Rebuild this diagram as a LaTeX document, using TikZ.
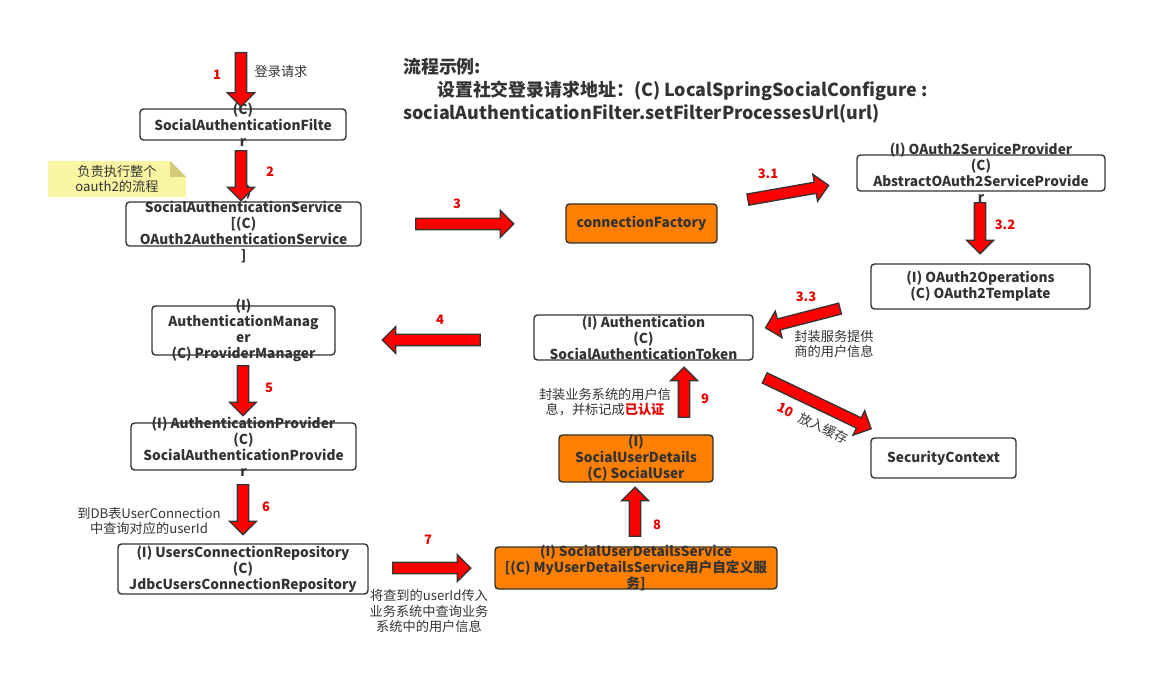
\documentclass[tikz,border=0pt]{standalone}
\usepackage{fontspec}
\setmainfont{Noto Sans CJK SC}
\usetikzlibrary{shapes.arrows,calc}

\definecolor{ink}{HTML}{333333}
\definecolor{flowred}{HTML}{FF0000}
\definecolor{numred}{HTML}{E80000}
\definecolor{boxorange}{HTML}{FF8000}
\definecolor{notefill}{HTML}{FAF5A3}
\definecolor{notefold}{HTML}{D2CC7A}

\tikzset{
  box/.style 2 args={draw=ink, line width=1.4pt, rounded corners=3.5pt, fill=white,
    minimum width=#1, minimum height=#2, inner sep=0pt},
  hot/.style={fill=boxorange},
  boxtxt/.style={align=center, text=ink, inner sep=0pt,
    font=\bfseries\fontsize{13.7}{16}\selectfont},
  blk/.style={single arrow, draw=ink, fill=flowred, line width=1.3pt,
    inner xsep=0pt, inner ysep=5pt, single arrow head extend=8pt,
    minimum height=#1, sloped, allow upside down, pos=0.5},
  num/.style={text=numred, font=\bfseries\fontsize{13}{15}\selectfont},
  remark/.style={align=center, text=ink, inner sep=0pt,
    font=\fontsize{13.2}{15.5}\selectfont},
}

\begin{document}
\begin{tikzpicture}[x=1pt, y=-1pt]
  \useasboundingbox (0,0) rectangle (1165,692);

  % title
  \node[anchor=north west, align=left, text=ink, inner sep=0pt,
    font=\bfseries\fontsize{17.9}{23}\selectfont] (title) at (403,58)
    {流程示例:\\
     \hspace*{34pt}设置社交登录请求地址：(C) LocalSpringSocialConfigure :\\
     socialAuthenticationFilter.setFilterProcessesUrl(url)};

  % sticky note
  \fill[notefill] (48,161) -- (170,161) -- (186,177) -- (186,197) -- (48,197) -- cycle;
  \fill[notefold] (170,161) -- (186,177) -- (170,177) -- cycle;
  \node[remark] (note) at (117,179) {负责执行整个\\oauth2的流程};

  % boxes
  \node[box={206}{31}, label={[boxtxt]center:{(C)\\SocialAuthenticationFilte\\r}}]
    (filter) at (243,124.5) {};
  \node[box={235}{44}, label={[boxtxt]center:{(I)\\SocialAuthenticationService\\{[}(C)\\OAuth2AuthenticationService\\]}}]
    (service) at (243.5,224) {};
  \node[box={183}{49}, label={[boxtxt]center:{(I)\\AuthenticationManag\\er\\(C) ProviderManager}}]
    (mgr) at (243.5,330.5) {};
  \node[box={225}{47}, label={[boxtxt]center:{(I) AuthenticationProvider\\(C)\\SocialAuthenticationProvide\\r}}]
    (prov) at (243.5,446.5) {};
  \node[box={250}{50}, label={[boxtxt]center:{(I) UsersConnectionRepository\\(C)\\JdbcUsersConnectionRepository}}]
    (ucr) at (243,569) {};
  \node[box={151}{39}, hot, label={[boxtxt]center:connectionFactory}]
    (cf) at (641.5,223.5) {};
  \node[box={248}{36}, label={[boxtxt]center:{(I) OAuth2ServiceProvider\\(C)\\AbstractOAuth2ServiceProvide\\r}}]
    (asp) at (981,173) {};
  \node[box={219}{45}, label={[boxtxt]center:{(I) OAuth2Operations\\(C) OAuth2Template}}]
    (ops) at (980.5,286.5) {};
  \node[box={219}{45}, label={[boxtxt]center:{(I) Authentication\\(C)\\SocialAuthenticationToken}}]
    (auth) at (643.5,337.5) {};
  \node[box={154}{47}, hot, label={[boxtxt]center:{(I)\\SocialUserDetails\\(C) SocialUser}}]
    (sud) at (636,458.5) {};
  \node[box={282}{42}, hot, label={[boxtxt]center:{(I) SocialUserDetailsService\\{[}(C) MyUserDetailsService用户自定义服\\务]}}]
    (mud) at (636,568) {};
  \node[box={145}{40}, label={[boxtxt]center:SecurityContext}]
    (sec) at (943.5,458) {};

  % block arrows
  \coordinate (req) at (241,50);
  \path (req) -- node[blk=54] (a1) {} ($(filter.north)+(-2,-5)$);
  \path ($(filter.south)+(-2,8)$) -- node[blk=50] (a2) {} ($(service.north)+(-2.5,-4)$);
  \path ($(service.east)+(52,0)$) -- node[blk=98] (a3) {} ($(cf.west)+(-55,0.5)$);
  \path ($(cf.east)+(28,-23.5)$) -- node[blk=82] (a31) {} ($(asp.west)+(-31,13)$);
  \path ($(asp.south)+(-1,9)$) -- node[blk=51] (a32) {} ($(ops.north)+(-0.5,-13)$);
  \path ($(ops.west)+(-28,21.5)$) -- node[blk=77] (a33) {} ($(auth.east)+(15,-10.5)$);
  \path ($(auth.west)+(-51,2.5)$) -- node[blk=98] (a4) {} ($(mgr.east)+(50,9.5)$);
  \path ($(mgr.south)+(-0.5,8)$) -- node[blk=50] (a5) {} ($(prov.north)+(-0.5,-10)$);
  \path ($(prov.south)+(-0.5,12)$) -- node[blk=50] (a6) {} ($(ucr.north)+(0,-12)$);
  \path ($(ucr.east)+(22,-1)$) -- node[blk=78] (a7) {} ($(mud.west)+(-27,0)$);
  \path ($(mud.north)+(-1,-8)$) -- node[blk=49] (a8) {} ($(sud.south)+(-1,8)$);
  \path ($(sud.north)+(48,-15)$) -- node[blk=50] (a9) {} ($(auth.south)+(40.5,10)$);
  \path ($(auth.east)+(9,39.5)$) -- node[blk=118] (a10) {} ($(sec.north)+(-75.5,-10)$);

  % step numbers
  \node[num] (n1) at (217,75) {1};
  \node[num] (n2) at (270,172) {2};
  \node[num] (n3) at (457,204) {3};
  \node[num] (n31) at (768,174) {3.1};
  \node[num] (n32) at (1005,225) {3.2};
  \node[num] (n33) at (806,297) {3.3};
  \node[num] (n4) at (440,320) {4};
  \node[num] (n5) at (269,388) {5};
  \node[num] (n6) at (266,507) {6};
  \node[num] (n7) at (428,540) {7};
  \node[num] (n8) at (657,525) {8};
  \node[num] (n9) at (705,399) {9};

  % remarks
  \node[remark] (r1) at (281,72) {登录请求};
  \node[remark] (r33) at (834,344) {封装服务提供\\商的用户信息};
  \node[remark] (r9) at (605,402) {封装业务系统的用户信\\息，并标记成{\bfseries\color{numred}已认证}};
  \node[remark] (r6) at (149,521) {到DB表UserConnection\\中查询对应的userId};
  \node[remark] (r7) at (429,611) {将查到的userId传入\\业务系统中查询业务\\系统中的用户信息};
  \node[remark, rotate=-26] (r10) at (813,423)
    {{\color{numred}\bfseries 10}\hspace{8pt}放入缓存};
\end{tikzpicture}
\end{document}
